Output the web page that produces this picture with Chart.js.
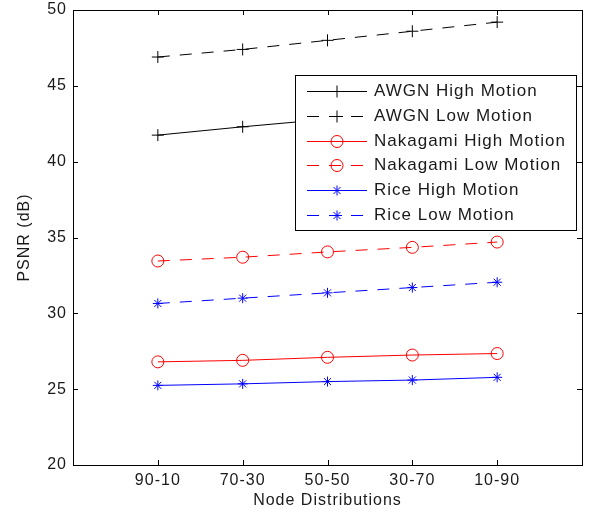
<!DOCTYPE html>
<html lang="en">
<head>
    <meta charset="UTF-8">
    <title>PSNR vs Node Distributions</title>
    <script src="https://cdn.jsdelivr.net/npm/chart.js"></script>
    <style>
        html, body { margin: 0; padding: 0; background: #fff; }
        #wrap { width: 589px; height: 512px; }
    </style>
</head>
<body>
<div id="wrap"><canvas id="psnrChart" width="589" height="512"></canvas></div>
<script>
// node distributions on the x axis
const categories = ['90-10', '70-30', '50-50', '30-70', '10-90'];

// PSNR (dB)
const awgnHigh     = [41.75, 42.3, 42.8, 43.3, 43.8];
const awgnLow      = [46.9, 47.4, 48.0, 48.6, 49.2];
const nakagamiHigh = [26.8, 26.9, 27.1, 27.25, 27.35];
const nakagamiLow  = [33.45, 33.7, 34.05, 34.35, 34.7];
const riceHigh     = [25.25, 25.35, 25.5, 25.6, 25.78];
const riceLow      = [30.65, 31.0, 31.35, 31.7, 32.05];

const yTicks = [20, 25, 30, 35, 40, 45, 50];

function pts(arr) {
    return arr.map((v, i) => ({ x: i + 1, y: v }));
}

function series(label, arr, color, style, dashed) {
    return {
        label: label,
        data: pts(arr),
        borderColor: color,
        backgroundColor: 'transparent',
        borderWidth: 1,
        borderDash: dashed ? [12, 10] : [],
        pointStyle: style,
        pointRadius: style === 'star' ? 5 : 6,
        pointHoverRadius: 6,
        pointBorderColor: color,
        pointBackgroundColor: 'transparent',
        pointBorderWidth: 1,
        tension: 0
    };
}

const datasets = [
    series('AWGN High Motion', awgnHigh, '#000000', 'cross', false),
    series('AWGN Low Motion', awgnLow, '#000000', 'cross', true),
    series('Nakagami High Motion', nakagamiHigh, '#ff0000', 'circle', false),
    series('Nakagami Low Motion', nakagamiLow, '#ff0000', 'circle', true),
    series('Rice High Motion', riceHigh, '#0000ff', 'star', false),
    series('Rice Low Motion', riceLow, '#0000ff', 'star', true)
];

// spacing so the text is as wide as in the picture
const spacing = {
    id: 'spacing',
    beforeDraw(chart) { chart.ctx.letterSpacing = '1px'; }
};

// box round the plot with inward ticks on all four sides
const frame = {
    id: 'frame',
    afterDatasetsDraw(chart) {
        const ctx = chart.ctx;
        const a = chart.chartArea;
        const xs = chart.scales.x, ys = chart.scales.y;
        ctx.save();
        ctx.strokeStyle = '#000';
        ctx.lineWidth = 1;
        ctx.setLineDash([]);
        ctx.beginPath();
        yTicks.forEach(v => {
            const y = Math.round(ys.getPixelForValue(v)) + 0.5;
            ctx.moveTo(a.left, y); ctx.lineTo(a.left + 5, y);
            ctx.moveTo(a.right, y); ctx.lineTo(a.right - 5, y);
        });
        categories.forEach((c, i) => {
            const x = Math.round(xs.getPixelForValue(i + 1)) + 0.5;
            ctx.moveTo(x, a.bottom); ctx.lineTo(x, a.bottom - 5);
            ctx.moveTo(x, a.top); ctx.lineTo(x, a.top + 5);
        });
        ctx.stroke();
        ctx.strokeRect(Math.round(a.left) + 0.5, Math.round(a.top) + 0.5,
            Math.round(a.right - a.left), Math.round(a.bottom - a.top));
        ctx.restore();
    }
};

// legend drawn inside the plot like the original
const boxLegend = {
    id: 'boxLegend',
    afterDraw(chart) {
        const ctx = chart.ctx;
        const bx = 295, by = 75, bw = 281, bh = 155;
        ctx.save();
        ctx.fillStyle = '#fff';
        ctx.fillRect(bx, by, bw, bh);
        ctx.strokeStyle = '#000';
        ctx.lineWidth = 1;
        ctx.setLineDash([]);
        ctx.strokeRect(bx + 0.5, by + 0.5, bw, bh);
        ctx.font = '17px "Liberation Sans", Arial, sans-serif';
        ctx.textBaseline = 'middle';
        ctx.letterSpacing = '1px';
        chart.data.datasets.forEach((ds, i) => {
            const y = Math.round(by + 16 + i * 24.8) + 0.5;
            ctx.strokeStyle = ds.borderColor;
            ctx.setLineDash(ds.borderDash);
            ctx.beginPath();
            ctx.moveTo(307, y);
            ctx.lineTo(367, y);
            ctx.stroke();
            ctx.setLineDash([]);
            ctx.fillStyle = 'rgba(0,0,0,0)';
            Chart.helpers.drawPoint(ctx, {
                pointStyle: ds.pointStyle,
                radius: ds.pointRadius,
                borderWidth: 1,
                rotation: 0
            }, 337, y);
            ctx.fillStyle = '#1a1a1a';
            ctx.fillText(ds.label, 374, y);
        });
        ctx.restore();
    }
};

const ctx = document.getElementById('psnrChart').getContext('2d');
new Chart(ctx, {
    type: 'line',
    data: { datasets: datasets },
    options: {
        responsive: false,
        animation: false,
        events: [],
        layout: { padding: { top: 10, right: 7, left: 0, bottom: 0 } },
        plugins: {
            legend: { display: false },
            tooltip: { enabled: false }
        },
        scales: {
            x: {
                type: 'linear',
                min: 0,
                max: 6,
                afterBuildTicks(s) { s.ticks = categories.map((c, i) => ({ value: i + 1 })); },
                afterFit(s) { s.height = 47; s.paddingLeft = 0; s.paddingRight = 0; },
                grid: { display: false, drawTicks: false },
                border: { display: true, color: '#000' },
                ticks: {
                    padding: 6,
                    color: '#1a1a1a',
                    autoSkip: false,
                    maxRotation: 0,
                    font: { family: '"Liberation Sans", Arial, sans-serif', size: 16 },
                    callback: v => categories[v - 1] || ''
                },
                title: {
                    display: true,
                    text: 'Node Distributions',
                    color: '#1a1a1a',
                    padding: { top: 0, bottom: 2 },
                    font: { family: '"Liberation Sans", Arial, sans-serif', size: 16 }
                }
            },
            y: {
                min: 20,
                max: 50,
                afterBuildTicks(s) { s.ticks = yTicks.map(v => ({ value: v })); },
                afterFit(s) { s.width = 73; s.paddingTop = 0; s.paddingBottom = 0; },
                grid: { display: false, drawTicks: false },
                border: { display: true, color: '#000' },
                ticks: {
                    padding: 6,
                    color: '#1a1a1a',
                    font: { family: '"Liberation Sans", Arial, sans-serif', size: 16 }
                },
                title: {
                    display: true,
                    text: 'PSNR (dB)',
                    color: '#1a1a1a',
                    padding: { top: 15, bottom: 0 },
                    font: { family: '"Liberation Sans", Arial, sans-serif', size: 16 }
                }
            }
        }
    },
    plugins: [spacing, frame, boxLegend]
});
</script>
</body>
</html>
